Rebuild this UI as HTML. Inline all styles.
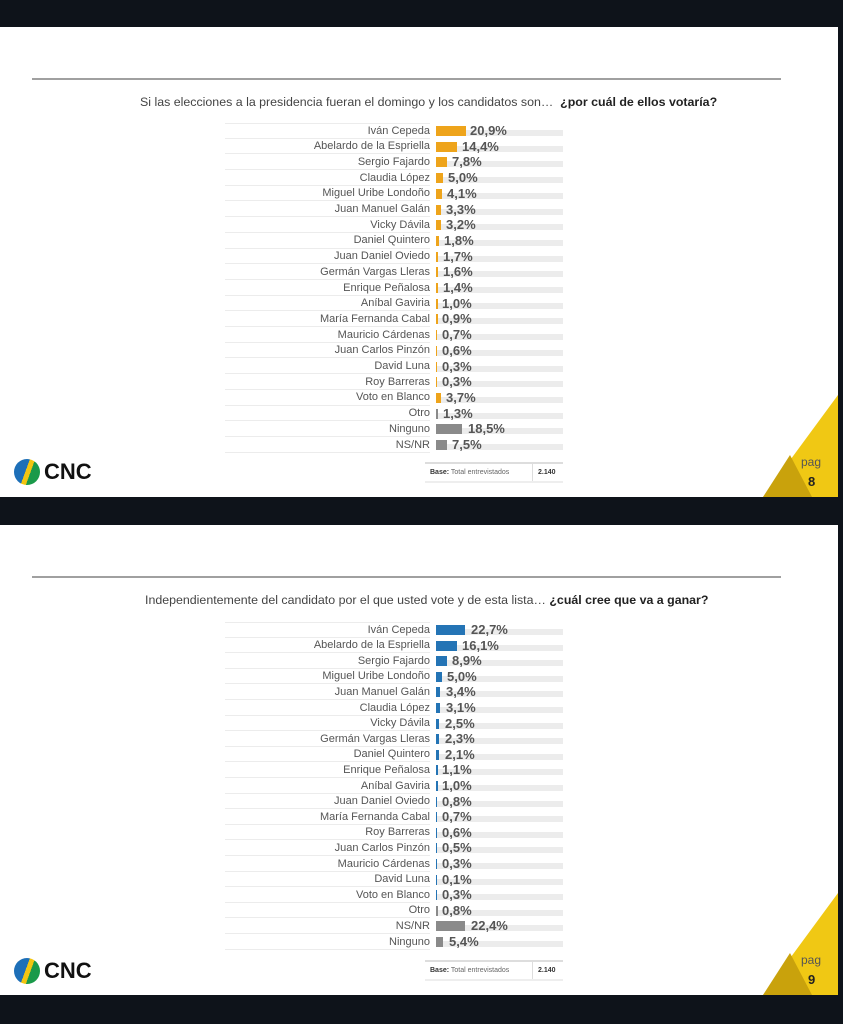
<!DOCTYPE html>
<html><head><meta charset="utf-8"><style>
body{margin:0;width:843px;height:1024px;background:#0e131a;position:relative;overflow:hidden;font-family:"Liberation Sans",sans-serif}
.slide{position:absolute;left:0;width:838px;height:470px;background:#fff;overflow:hidden}
.hl{position:absolute;left:32px;width:749px;top:51px;height:2px;background:#a0a0a0}
.title{position:absolute;top:68px;font-size:12.4px;color:#444;white-space:nowrap}
.title b{color:#222}
.r{position:absolute;left:0;width:600px;height:15.7px}
.r .l{position:absolute;right:170px;top:1.5px;font-size:11px;color:#555;white-space:nowrap}
.r .s{position:absolute;left:225px;width:205px;bottom:0;height:1px;background:#ececec}
.r .g{position:absolute;left:436px;width:127px;top:7px;height:6px;background:#ececec}
.r .b{position:absolute;left:436px;top:3px;height:10px}
.r .v{position:absolute;top:0;font-size:13px;font-weight:bold;color:#555;font-family:"Liberation Sans Narrow","Liberation Sans",sans-serif}
.o .b{background:#eea41b}.u .b{background:#2474b5}.r.gr .b{background:#8a8a8a}
.base{position:absolute;left:425px;top:435px;width:138px;height:17px;border-top:2px solid #ddd;border-bottom:2px solid #eee;font-size:7px;color:#666;line-height:17px}
.base span{position:absolute;left:5px}.base i{position:absolute;left:107px;top:0;height:17px;border-left:1px solid #ddd}.base b{position:absolute;left:113px;color:#333}
.logo{position:absolute;left:14px;top:432px;width:26px;height:26px;border-radius:50%;background:linear-gradient(110deg,#1d6fb8 0 45%,#f2c511 45% 60%,#1a9a4a 60%)}
.cnc{position:absolute;left:44px;top:432px;font-size:22px;font-weight:bold;color:#111;font-family:"Liberation Sans Narrow","Liberation Sans",sans-serif}
.tri{position:absolute;left:0;top:0}
.pag{position:absolute;left:801px;top:428px;font-size:12px;color:#555}
.pn{position:absolute;left:808px;top:447px;font-size:13px;font-weight:bold;color:#222}
</style></head><body>

<div class="slide" style="top:27px">
<div class="hl"></div>
<div class="title" style="left:140px">Si las elecciones a la presidencia fueran el domingo y los candidatos son… &nbsp;<b>¿por cuál de ellos votaría?</b></div>
<div style="position:absolute;left:225px;top:96px;width:205px;height:1px;background:#ececec"></div>
<div class="r o" style="top:96px"><div class="l">Iván Cepeda</div><div class="s"></div><div class="g"></div><div class="b" style="width:30px"></div><div class="v" style="left:470px">20,9%</div></div>
<div class="r o" style="top:111.7px"><div class="l">Abelardo de la Espriella</div><div class="s"></div><div class="g"></div><div class="b" style="width:21px"></div><div class="v" style="left:462px">14,4%</div></div>
<div class="r o" style="top:127.4px"><div class="l">Sergio Fajardo</div><div class="s"></div><div class="g"></div><div class="b" style="width:11px"></div><div class="v" style="left:452px">7,8%</div></div>
<div class="r o" style="top:143.1px"><div class="l">Claudia López</div><div class="s"></div><div class="g"></div><div class="b" style="width:7px"></div><div class="v" style="left:448px">5,0%</div></div>
<div class="r o" style="top:158.8px"><div class="l">Miguel Uribe Londoño</div><div class="s"></div><div class="g"></div><div class="b" style="width:6px"></div><div class="v" style="left:447px">4,1%</div></div>
<div class="r o" style="top:174.5px"><div class="l">Juan Manuel Galán</div><div class="s"></div><div class="g"></div><div class="b" style="width:5px"></div><div class="v" style="left:446px">3,3%</div></div>
<div class="r o" style="top:190.2px"><div class="l">Vicky Dávila</div><div class="s"></div><div class="g"></div><div class="b" style="width:5px"></div><div class="v" style="left:446px">3,2%</div></div>
<div class="r o" style="top:205.9px"><div class="l">Daniel Quintero</div><div class="s"></div><div class="g"></div><div class="b" style="width:3px"></div><div class="v" style="left:444px">1,8%</div></div>
<div class="r o" style="top:221.6px"><div class="l">Juan Daniel Oviedo</div><div class="s"></div><div class="g"></div><div class="b" style="width:2px"></div><div class="v" style="left:443px">1,7%</div></div>
<div class="r o" style="top:237.3px"><div class="l">Germán Vargas Lleras</div><div class="s"></div><div class="g"></div><div class="b" style="width:2px"></div><div class="v" style="left:443px">1,6%</div></div>
<div class="r o" style="top:253px"><div class="l">Enrique Peñalosa</div><div class="s"></div><div class="g"></div><div class="b" style="width:2px"></div><div class="v" style="left:443px">1,4%</div></div>
<div class="r o" style="top:268.7px"><div class="l">Aníbal Gaviria</div><div class="s"></div><div class="g"></div><div class="b" style="width:1.5px"></div><div class="v" style="left:442px">1,0%</div></div>
<div class="r o" style="top:284.4px"><div class="l">María Fernanda Cabal</div><div class="s"></div><div class="g"></div><div class="b" style="width:1.5px"></div><div class="v" style="left:442px">0,9%</div></div>
<div class="r o" style="top:300.1px"><div class="l">Mauricio Cárdenas</div><div class="s"></div><div class="g"></div><div class="b" style="width:1px"></div><div class="v" style="left:442px">0,7%</div></div>
<div class="r o" style="top:315.8px"><div class="l">Juan Carlos Pinzón</div><div class="s"></div><div class="g"></div><div class="b" style="width:1px"></div><div class="v" style="left:442px">0,6%</div></div>
<div class="r o" style="top:331.5px"><div class="l">David Luna</div><div class="s"></div><div class="g"></div><div class="b" style="width:1px"></div><div class="v" style="left:442px">0,3%</div></div>
<div class="r o" style="top:347.2px"><div class="l">Roy Barreras</div><div class="s"></div><div class="g"></div><div class="b" style="width:1px"></div><div class="v" style="left:442px">0,3%</div></div>
<div class="r o" style="top:362.9px"><div class="l">Voto en Blanco</div><div class="s"></div><div class="g"></div><div class="b" style="width:5px"></div><div class="v" style="left:446px">3,7%</div></div>
<div class="r gr" style="top:378.6px"><div class="l">Otro</div><div class="s"></div><div class="g"></div><div class="b" style="width:2px"></div><div class="v" style="left:443px">1,3%</div></div>
<div class="r gr" style="top:394.3px"><div class="l">Ninguno</div><div class="s"></div><div class="g"></div><div class="b" style="width:26px"></div><div class="v" style="left:468px">18,5%</div></div>
<div class="r gr" style="top:410px"><div class="l">NS/NR</div><div class="s"></div><div class="g"></div><div class="b" style="width:11px"></div><div class="v" style="left:452px">7,5%</div></div>
<div class="base"><span><b style="position:static;color:#333">Base:</b> Total entrevistados</span><i></i><b>2.140</b></div>
<div class="logo"></div><div class="cnc">CNC</div>
<svg class="tri" width="838" height="470"><polygon points="763,470 838,470 838,368" fill="#f0c814"/><polygon points="763,470 812,470 790,428" fill="#c9a20c"/></svg>
<div class="pag">pag</div><div class="pn">8</div>
</div>

<div class="slide" style="top:525px">
<div class="hl"></div>
<div class="title" style="left:145px">Independientemente del candidato por el que usted vote y de esta lista… <b>¿cuál cree que va a ganar?</b></div>
<div style="position:absolute;left:225px;top:97px;width:205px;height:1px;background:#ececec"></div>
<div class="r u" style="top:97px"><div class="l">Iván Cepeda</div><div class="s"></div><div class="g"></div><div class="b" style="width:29px"></div><div class="v" style="left:471px">22,7%</div></div>
<div class="r u" style="top:112.6px"><div class="l">Abelardo de la Espriella</div><div class="s"></div><div class="g"></div><div class="b" style="width:21px"></div><div class="v" style="left:462px">16,1%</div></div>
<div class="r u" style="top:128.2px"><div class="l">Sergio Fajardo</div><div class="s"></div><div class="g"></div><div class="b" style="width:11px"></div><div class="v" style="left:452px">8,9%</div></div>
<div class="r u" style="top:143.8px"><div class="l">Miguel Uribe Londoño</div><div class="s"></div><div class="g"></div><div class="b" style="width:6px"></div><div class="v" style="left:447px">5,0%</div></div>
<div class="r u" style="top:159.4px"><div class="l">Juan Manuel Galán</div><div class="s"></div><div class="g"></div><div class="b" style="width:4px"></div><div class="v" style="left:446px">3,4%</div></div>
<div class="r u" style="top:175px"><div class="l">Claudia López</div><div class="s"></div><div class="g"></div><div class="b" style="width:4px"></div><div class="v" style="left:446px">3,1%</div></div>
<div class="r u" style="top:190.6px"><div class="l">Vicky Dávila</div><div class="s"></div><div class="g"></div><div class="b" style="width:3px"></div><div class="v" style="left:445px">2,5%</div></div>
<div class="r u" style="top:206.2px"><div class="l">Germán Vargas Lleras</div><div class="s"></div><div class="g"></div><div class="b" style="width:3px"></div><div class="v" style="left:445px">2,3%</div></div>
<div class="r u" style="top:221.8px"><div class="l">Daniel Quintero</div><div class="s"></div><div class="g"></div><div class="b" style="width:3px"></div><div class="v" style="left:445px">2,1%</div></div>
<div class="r u" style="top:237.4px"><div class="l">Enrique Peñalosa</div><div class="s"></div><div class="g"></div><div class="b" style="width:1.5px"></div><div class="v" style="left:442px">1,1%</div></div>
<div class="r u" style="top:253px"><div class="l">Aníbal Gaviria</div><div class="s"></div><div class="g"></div><div class="b" style="width:1.5px"></div><div class="v" style="left:442px">1,0%</div></div>
<div class="r u" style="top:268.6px"><div class="l">Juan Daniel Oviedo</div><div class="s"></div><div class="g"></div><div class="b" style="width:1px"></div><div class="v" style="left:442px">0,8%</div></div>
<div class="r u" style="top:284.2px"><div class="l">María Fernanda Cabal</div><div class="s"></div><div class="g"></div><div class="b" style="width:1px"></div><div class="v" style="left:442px">0,7%</div></div>
<div class="r u" style="top:299.8px"><div class="l">Roy Barreras</div><div class="s"></div><div class="g"></div><div class="b" style="width:1px"></div><div class="v" style="left:442px">0,6%</div></div>
<div class="r u" style="top:315.4px"><div class="l">Juan Carlos Pinzón</div><div class="s"></div><div class="g"></div><div class="b" style="width:1px"></div><div class="v" style="left:442px">0,5%</div></div>
<div class="r u" style="top:331px"><div class="l">Mauricio Cárdenas</div><div class="s"></div><div class="g"></div><div class="b" style="width:1px"></div><div class="v" style="left:442px">0,3%</div></div>
<div class="r u" style="top:346.6px"><div class="l">David Luna</div><div class="s"></div><div class="g"></div><div class="b" style="width:1px"></div><div class="v" style="left:442px">0,1%</div></div>
<div class="r u" style="top:362.2px"><div class="l">Voto en Blanco</div><div class="s"></div><div class="g"></div><div class="b" style="width:1px"></div><div class="v" style="left:442px">0,3%</div></div>
<div class="r gr" style="top:377.8px"><div class="l">Otro</div><div class="s"></div><div class="g"></div><div class="b" style="width:1.5px"></div><div class="v" style="left:442px">0,8%</div></div>
<div class="r gr" style="top:393.4px"><div class="l">NS/NR</div><div class="s"></div><div class="g"></div><div class="b" style="width:29px"></div><div class="v" style="left:471px">22,4%</div></div>
<div class="r gr" style="top:409px"><div class="l">Ninguno</div><div class="s"></div><div class="g"></div><div class="b" style="width:7px"></div><div class="v" style="left:449px">5,4%</div></div>
<div class="base" style="top:435px"><span><b style="position:static;color:#333">Base:</b> Total entrevistados</span><i></i><b>2.140</b></div>
<div class="logo" style="top:433px"></div><div class="cnc" style="top:433px">CNC</div>
<svg class="tri" width="838" height="470"><polygon points="763,470 838,470 838,368" fill="#f0c814"/><polygon points="763,470 812,470 790,428" fill="#c9a20c"/></svg>
<div class="pag">pag</div><div class="pn">9</div>
</div>
</body></html>
